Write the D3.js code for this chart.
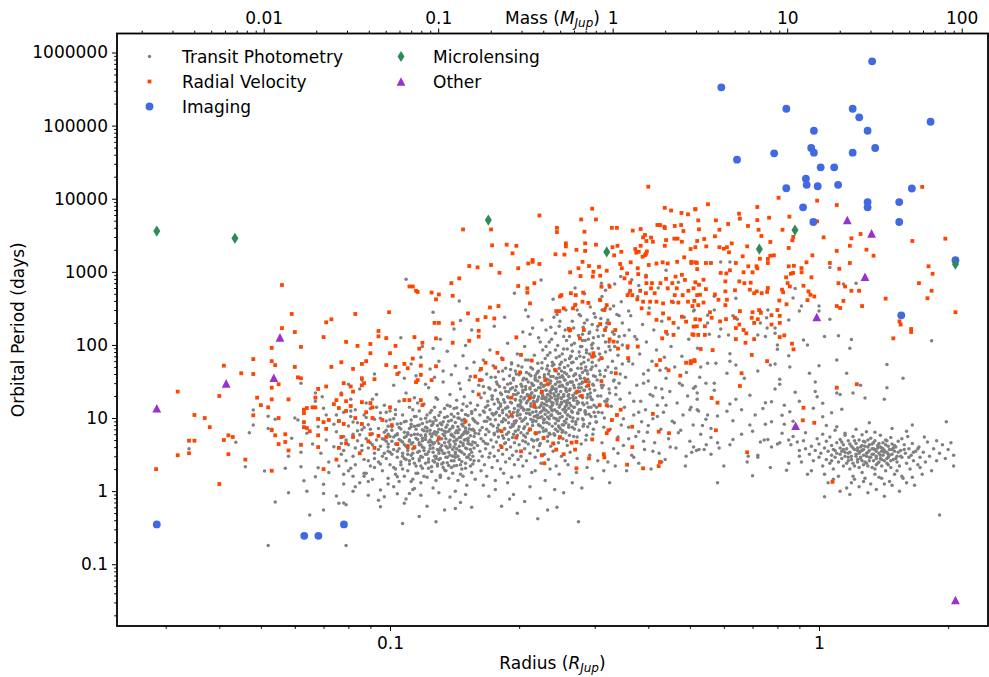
<!DOCTYPE html>
<html>
<head>
<meta charset="utf-8">
<script src="https://cdn.jsdelivr.net/npm/d3@7"></script>
<style>
  body { margin: 0; background: #fff; }
  text { font-family: "DejaVu Sans", sans-serif; }
</style>
</head>
<body>
<svg id="chart" width="989" height="677"></svg>
<script>
// [radius (R_Jup), orbital period (days)]
var transit = [
[0.034,3.8],[0.0437,4.65],[0.048,12.9],[0.048,8.0],[0.047,6.3],[0.046,2.16],[0.051,1.88],[0.052,10.6],[0.054,9.6],[0.052,7.2],[0.053,7.0],[0.054,0.71],[0.052,0.18],
[0.058,0.95],[0.064,1.0],[0.063,1.39],[0.062,3.4],[0.062,2.16],[0.057,2.05],[0.058,3.0],[0.059,5.3],[0.061,9.4],[0.060,10],[0.065,0.47],[0.070,0.55],[0.067,1.57],[0.068,2.09],[0.070,1.24],[0.070,0.93],[0.068,7.6],[0.071,5.0],[0.072,2.5],[0.062,30],[0.067,22],[0.067,17],[0.070,13.6],[0.066,4.4],[0.069,3.3],[0.071,11],[0.064,6.2],[0.072,1.8],[0.0695,19.5],
[0.074,4.05],[0.075,0.86],[0.076,0.68],[0.078,0.69],[0.079,0.65],[0.078,1.25],[0.078,1.7],[0.082,1.0],[0.082,1.6],[0.087,1.75],[0.088,1.75],[0.092,2.1],[0.095,1.04],[0.095,0.61],[0.089,0.88],[0.097,0.84],[0.099,1.5],[0.079,0.18],
[0.075,6.5],[0.076,9.0],[0.077,3.2],[0.078,12],[0.078,5.6],[0.079,2.6],[0.080,7.8],[0.080,4.3],[0.081,18],[0.081,10.5],[0.082,3.0],[0.082,6.0],[0.083,2.3],[0.083,13],[0.084,4.9],[0.084,8.6],[0.085,1.3],[0.085,25],[0.086,3.6],[0.086,6.9],[0.087,11],[0.087,2.7],[0.088,5.2],[0.088,16],[0.089,3.9],[0.089,8.1],[0.090,2.2],[0.090,4.6],[0.090,13.5],[0.091,6.1],[0.091,1.45],[0.092,3.3],[0.092,9.6],[0.093,5.0],[0.093,21],[0.094,2.5],[0.094,7.2],[0.095,4.1],[0.095,11.8],[0.096,3.0],[0.096,1.9],[0.097,6.4],[0.097,15],[0.098,2.8],[0.098,4.8],[0.098,9.1],[0.099,3.5],[0.099,1.25],[0.099,7.7],[0.100,5.6],[0.100,2.3],[0.100,12.5],[0.080,29],[0.086,33],[0.092,40],[0.077,22],[0.083,1.15],[0.089,1.35],[0.094,0.75],[0.081,2.05],
[0.074,8.2],[0.079,5.0],[0.083,3.9],[0.087,7.4],[0.091,4.3],[0.095,9.9],[0.099,6.0],[0.076,2.2],[0.081,12.5],[0.085,5.9],[0.089,2.6],[0.093,14],[0.097,3.3],[0.078,3.6],[0.084,6.7],[0.088,10.2],[0.092,2.8],[0.096,5.2],[0.08,1.9],[0.086,4.2],[0.090,7.0],[0.094,3.7],[0.098,12],[0.075,11],[0.082,8.8],[0.087,1.6],[0.091,18],[0.095,2.35],[0.099,4.4],[0.077,4.5],
[0.109,790],[0.145,400],[0.126,280],[0.146,215],[0.126,89],[0.102,1.15],[0.107,0.36],[0.104,1.57],[0.108,0.68],[0.111,0.93],[0.114,1.09],[0.112,1.35],
[0.101,3.2],[0.101,6.8],[0.102,2.1],[0.102,9.8],[0.103,4.4],[0.103,1.7],[0.103,13],[0.104,2.9],[0.104,5.9],[0.104,8.3],[0.105,3.8],[0.105,1.35],[0.105,17],[0.106,2.5],[0.106,4.9],[0.106,7.1],[0.107,3.3],[0.107,11],[0.107,2.0],[0.108,5.4],[0.108,1.6],[0.108,8.9],[0.109,2.7],[0.109,4.1],[0.109,22],[0.110,3.6],[0.110,6.3],[0.110,1.9],[0.111,14],[0.111,2.35],[0.111,5.0],[0.112,3.1],[0.112,9.4],[0.112,7.6],[0.113,1.45],[0.113,4.6],[0.113,2.8],[0.114,6.0],[0.114,3.9],[0.114,19],[0.115,2.2],[0.115,10.5],[0.115,5.3],[0.116,3.4],[0.116,1.75],[0.116,7.9],[0.117,4.3],[0.117,2.6],[0.117,12.5],[0.118,5.8],[0.118,3.0],[0.118,1.3],[0.119,8.4],[0.119,2.05],[0.119,4.0],[0.120,6.7],[0.120,3.6],[0.120,15.5],[0.121,2.4],[0.121,5.1],[0.121,9.9],[0.122,1.55],[0.122,3.2],[0.122,7.3],[0.123,4.7],[0.123,2.75],[0.123,26],[0.124,6.1],[0.124,3.8],[0.124,11.8],[0.125,2.15],[0.125,5.6],[0.125,1.85],[0.126,8.8],[0.126,3.4],[0.126,4.4],[0.127,14],[0.127,2.5],[0.127,6.5],[0.128,3.0],[0.128,1.4],[0.128,9.3],[0.129,4.9],[0.129,2.2],[0.129,18],[0.130,7.0],[0.130,3.6],[0.130,5.5],[0.131,2.8],[0.131,12],[0.131,1.65],[0.132,4.2],[0.132,8.1],[0.132,2.35],[0.133,6.0],[0.133,3.3],[0.133,31],[0.134,10.2],[0.134,4.6],[0.134,1.95],[0.135,2.9],[0.135,7.5],[0.135,5.2],[0.136,3.9],[0.136,15],[0.136,2.45],[0.137,6.6],[0.137,1.5],[0.137,9.0],[0.138,4.3],[0.138,3.1],[0.138,21],[0.139,5.8],[0.139,2.1],[0.139,11.3],[0.140,3.7],[0.140,7.7],[0.140,1.75],[0.141,4.8],[0.141,2.6],[0.141,13.5],[0.142,6.3],[0.142,3.4],[0.142,8.7],[0.143,2.25],[0.143,5.0],[0.143,17.5],[0.144,3.0],[0.144,10],[0.144,1.4],[0.145,6.9],[0.145,4.1],[0.145,2.7],[0.146,25],[0.146,5.4],[0.146,3.5],[0.147,8.2],[0.147,2.0],[0.147,12.8],[0.148,4.5],[0.148,6.0],[0.148,1.6],[0.149,3.2],[0.149,9.6],[0.149,19.5],[0.150,5.1],[0.150,2.4],[0.150,7.3],[0.151,3.8],[0.151,14.5],[0.151,1.2],[0.152,6.4],[0.152,2.9],[0.152,10.8],[0.153,4.4],[0.153,33],[0.153,8.0],[0.154,2.2],[0.154,5.7],[0.154,16],[0.155,3.4],[0.155,11.5],[0.155,1.8],[0.156,7.0],[0.156,4.7],[0.156,23],[0.157,2.6],[0.157,9.3],[0.157,3.9],[0.158,6.2],[0.158,13],[0.158,1.45],
[0.097,5.1],[0.131,3.9],[0.118,9.7],[0.143,6.7],[0.106,2.3],[0.152,4.9],[0.125,12.7],[0.137,2.25],[0.112,4.4],[0.149,8.6],[0.101,7.6],[0.128,5.9],[0.156,3.0],[0.119,2.9],[0.134,13.5],[0.108,6.4],[0.146,2.3],[0.123,3.45],[0.139,9.3],[0.115,1.75],[0.103,11.2],[0.158,8.9],[0.129,7.9],[0.141,4.0],[0.110,3.2],[0.148,15.5],[0.121,5.6],[0.135,1.9],[0.099,4.0],[0.154,2.7],[0.117,8.0],[0.132,6.9],[0.105,5.1],[0.144,11.5],[0.126,2.6],[0.138,5.0],[0.113,13.0],[0.151,6.2],[0.102,3.7],[0.124,4.2],[0.147,3.4],[0.116,6.0],[0.133,2.45],[0.109,9.0],[0.155,12.3],[0.127,3.0],[0.140,7.4],[0.120,1.6],[0.145,5.4],[0.107,4.7],[0.136,10.5],[0.130,4.5],[0.150,2.05],[0.111,7.2],[0.122,6.6],[0.142,2.9],[0.104,3.5],[0.157,5.6],[0.128,19],[0.117,3.5],[0.139,6.0],[0.114,2.4],[0.148,4.2],[0.125,7.9],[0.134,3.3],[0.100,9.5],[0.153,7.1],[0.119,4.9],[0.143,13.8],[0.108,2.8],[0.131,8.5],[0.146,1.7],[0.122,11],[0.137,4.7],[0.112,5.8],[0.150,3.9],[0.126,6.1],[0.103,2.0],[0.141,5.5],[0.116,16],[0.133,2.1],[0.156,9.8],[0.121,3.2],[0.144,7.6],[0.110,4.2],[0.129,2.35],[0.138,14.5],[0.152,5.3],[0.098,6.8],[0.124,9.1],[0.147,2.55],[0.113,3.8],[0.135,6.4],[0.106,8.4],[0.142,4.4],[0.119,5.3],[0.131,1.55],[0.155,4.3],[0.127,4.6],[0.140,3.0],[0.115,7.0],[0.149,6.4],[0.101,4.8],[0.123,2.05],[0.136,8.0],[0.145,3.6],[0.109,5.6],[0.130,10.8],[0.118,2.2],[0.153,3.15],[0.134,5.7],[0.104,6.1],[0.126,3.9],[0.147,9.3],[0.121,7.5],[0.139,2.6],[0.112,8.2],[0.157,6.7],[0.128,2.8],[0.143,5.1],[0.117,4.6],[0.132,3.6],[0.150,11.2],[0.107,3.0],[0.124,5.0],[0.138,7.0],[0.114,10.5],[0.146,4.7],[0.129,6.4],[0.102,5.5],[0.141,2.2],[0.120,3.9],[0.154,3.7],[0.133,8.9],[0.111,2.6],[0.144,6.3],[0.125,4.7],[0.137,3.4],[0.158,4.6],[0.116,5.1],[0.130,2.7],[0.149,5.0],[0.105,7.4],[0.122,8.8],[0.142,3.2],[0.119,6.9],[0.135,4.1],[0.151,2.9],[0.110,6.0],[0.127,10.2],[0.140,5.7],[0.113,3.3],[0.148,7.8],[0.123,2.5],[0.132,5.2],[0.100,3.4],[0.145,9.9],[0.118,4.3],[0.136,2.9],[0.155,6.9],[0.108,4.3],[0.129,3.7],[0.143,3.8],[0.121,5.9],[0.152,4.5],[0.114,7.7],[0.138,4.0],[0.126,8.3],[0.147,5.8],[0.103,5.8],[0.134,6.6],[0.117,2.75],[0.141,10.4],[0.130,3.3],[0.156,2.35],[0.111,4.8],[0.124,6.8],[0.150,6.7],
[0.102,28],[0.105,42],[0.108,35],[0.112,55],[0.115,38],[0.118,68],[0.121,29],[0.124,47],[0.127,36],[0.130,60],[0.133,44],[0.136,82],[0.139,39],[0.142,52],[0.145,30],[0.148,71],[0.151,48],[0.154,37],[0.157,58],[0.119,95],[0.131,120],[0.141,165],[0.150,98],[0.106,125],
[0.104,0.92],[0.109,0.78],[0.113,1.05],[0.118,0.88],[0.122,0.62],[0.126,1.1],[0.130,0.95],[0.134,0.55],[0.138,0.83],[0.142,1.0],[0.146,0.7],[0.150,0.9],[0.155,0.6],[0.117,0.45],[0.128,0.38],[0.142,0.58],
[0.160,4.2],[0.160,8.5],[0.160,15],[0.161,2.6],[0.161,28],[0.161,6.1],[0.162,11],[0.162,3.5],[0.162,45],[0.163,5.2],[0.163,19],[0.163,1.9],[0.164,7.4],[0.164,33],[0.164,3.0],[0.165,12.5],[0.165,4.8],[0.165,62],[0.166,9.0],[0.166,2.3],[0.166,22],[0.167,5.9],[0.167,14],[0.167,3.8],[0.168,40],[0.168,7.0],[0.168,1.6],[0.169,10.2],[0.169,4.4],[0.169,17],[0.170,2.9],[0.170,26],[0.170,6.5],[0.171,13],[0.171,3.3],[0.171,85],[0.172,8.2],[0.172,5.0],[0.172,36],[0.173,2.1],[0.173,11.5],[0.173,20],[0.174,4.0],[0.174,7.8],[0.174,52],[0.175,15.5],[0.175,3.0],[0.175,6.2],[0.176,24],[0.176,9.5],[0.176,1.4],[0.177,4.7],[0.177,31],[0.177,12],[0.178,2.6],[0.178,7.3],[0.178,18],[0.179,5.5],[0.179,43],[0.179,3.6],[0.180,10.8],[0.180,27],[0.180,6.8],[0.181,2.0],[0.181,14.5],[0.181,4.2],[0.182,66],[0.182,8.9],[0.182,21],[0.183,3.2],[0.183,12.8],[0.183,5.7],[0.184,34],[0.184,1.75],[0.184,9.8],[0.185,16.5],[0.185,4.5],[0.185,7.1],[0.186,2.5],[0.186,48],[0.186,23],[0.187,11],[0.187,6.0],[0.187,3.7],[0.188,29],[0.188,14],[0.188,105],[0.189,5.1],[0.189,8.6],[0.189,19],[0.190,2.8],[0.190,38],[0.190,12.2],[0.191,4.0],[0.191,7.5],[0.191,25],[0.192,16],[0.192,1.55],[0.192,57],[0.193,10.4],[0.193,5.4],[0.193,3.1],[0.194,21],[0.194,8.0],[0.194,33],[0.195,13.5],[0.195,4.6],[0.195,2.3],[0.196,6.6],[0.196,44],[0.196,18],[0.197,9.2],[0.197,27],[0.197,3.5],[0.198,12],[0.198,5.8],[0.198,75],[0.199,15],[0.199,2.7],[0.199,22],[0.200,7.6],[0.200,39],[0.200,4.3],
[0.201,11.2],[0.201,17.5],[0.202,3.0],[0.202,29],[0.202,6.3],[0.203,50],[0.203,9.0],[0.203,14],[0.204,4.9],[0.204,24],[0.204,2.2],[0.205,12.8],[0.205,35],[0.205,7.2],[0.206,19],[0.206,3.8],[0.206,95],[0.207,10],[0.207,5.5],[0.207,27],[0.208,16],[0.208,42],[0.208,2.6],[0.209,8.3],[0.209,13],[0.209,21],[0.210,4.4],[0.210,62],[0.210,31],[0.211,6.8],[0.211,11.5],[0.211,18],[0.212,3.3],[0.212,25],[0.212,140],[0.213,9.6],[0.213,38],[0.213,14.5],[0.214,5.1],[0.214,22],[0.214,1.8],[0.215,12],[0.215,47],[0.215,7.9],[0.216,16.8],[0.216,28],[0.216,4.0],[0.217,10.5],[0.217,20],[0.217,72],[0.218,6.1],[0.218,33],[0.218,2.9],[0.219,13.8],[0.219,9.0],[0.219,24],[0.220,41],[0.220,5.0],[0.220,17],[0.221,11],[0.221,3.6],[0.221,56],[0.222,8.1],[0.222,26],[0.222,19.5],[0.223,14],[0.223,6.4],[0.223,36],[0.224,110],[0.224,10.2],[0.224,4.5],[0.225,22],[0.225,30],[0.225,2.4],[0.226,12.5],[0.226,16],[0.226,48],[0.227,7.3],[0.227,85],[0.227,20],[0.228,9.5],[0.228,27],[0.228,5.4],[0.229,13],[0.229,39],[0.229,3.2],[0.230,18],[0.230,65],[0.230,11.3],[0.231,24],[0.231,6.9],[0.231,160],[0.232,15],[0.232,34],[0.232,8.7],[0.233,4.8],[0.233,21],[0.233,52],[0.234,12],[0.234,29],[0.234,2.7],[0.235,17.5],[0.235,9.8],[0.235,44],[0.236,6.0],[0.236,23],[0.236,78],[0.237,14],[0.237,32],[0.237,4.1],[0.238,11],[0.238,19],[0.238,120],[0.239,26],[0.239,7.7],[0.239,58],[0.240,16],[0.240,3.5],[0.240,37],[0.241,10],[0.241,21.5],[0.241,240],[0.242,13],[0.242,46],[0.242,5.8],[0.243,29],[0.243,18],[0.243,8.4],[0.244,67],[0.244,2.2],[0.244,25],[0.245,12.3],[0.245,35],[0.245,15.5],[0.246,6.6],[0.246,98],[0.246,20],[0.247,40],[0.247,9.2],[0.247,4.6],[0.248,27],[0.248,14],[0.248,180],[0.249,54],[0.249,11.5],[0.249,31],[0.250,7.1],[0.250,19],[0.250,23],[0.251,3.0],[0.251,44],[0.251,16.5],[0.252,75],[0.252,10.5],[0.252,28],[0.253,5.2],[0.253,36],[0.253,13],[0.254,130],[0.254,21],[0.254,8.0],[0.255,49],[0.255,17],[0.255,33],[0.256,2.6],[0.256,12],[0.256,62],[0.257,24],[0.257,6.3],[0.257,300],[0.258,40],[0.258,15],[0.258,9.7],[0.259,88],[0.259,29],[0.259,4.2],[0.260,20],[0.260,52],[0.260,11],
[0.261,37],[0.261,7.5],[0.262,155],[0.262,16],[0.263,25],[0.263,3.4],[0.264,70],[0.264,45],[0.265,12.5],[0.265,31],[0.266,9.0],[0.266,210],[0.267,19],[0.267,58],[0.268,5.6],[0.268,28],[0.269,105],[0.269,14],[0.270,40],[0.270,22],[0.271,8.2],[0.271,360],[0.272,65],[0.272,33],[0.273,2.8],[0.273,17],[0.274,48],[0.274,11.5],[0.275,135],[0.275,26],[0.276,6.8],[0.276,80],[0.277,38],[0.277,20],[0.278,250],[0.278,13],[0.279,55],[0.279,4.4],[0.280,30],[0.280,95],[0.281,16],[0.281,42],[0.282,175],[0.282,9.5],[0.283,24],[0.283,68],[0.284,500],[0.284,35],[0.285,12],[0.285,115],[0.286,5.0],[0.286,50],[0.287,27],[0.287,85],[0.288,19],[0.288,220],[0.289,40],[0.289,7.6],[0.290,62],[0.290,14],[0.291,145],[0.291,31],[0.292,3.1],[0.292,75],[0.293,22],[0.293,330],[0.294,46],[0.294,10.5],[0.295,100],[0.295,18],[0.296,58],[0.296,190],[0.297,29],[0.297,6.0],[0.298,125],[0.298,38],[0.299,15],[0.299,270],[0.300,70],[0.300,24],[0.302,52],[0.302,8.8],[0.304,160],[0.304,33],[0.306,12],[0.306,90],[0.308,420],[0.308,44],[0.310,20],[0.310,230],[0.312,4.6],[0.312,65],[0.314,28],[0.314,135],[0.316,37],[0.316,10],[0.318,560],[0.318,80],[0.320,17],[0.320,200],[0.322,50],[0.322,2.5],[0.324,110],[0.324,25],[0.326,7.0],[0.326,310],[0.328,42],[0.328,14.5],[0.330,150],[0.330,60],[0.332,32],[0.332,3.8],[0.334,95],[0.334,680],[0.336,21],[0.336,48],[0.338,260],[0.338,11],[0.340,72],[0.340,5.5],[0.342,130],[0.342,30],[0.344,40],[0.344,18],[0.346,390],[0.346,8.0],[0.348,100],[0.348,55],
[0.171,9.6],[0.236,14.2],[0.289,21],[0.205,5.8],[0.263,31],[0.184,17.8],[0.312,11.8],[0.221,43],[0.247,7.8],[0.196,24],[0.275,16.3],[0.166,12],[0.228,8.6],[0.301,37],[0.258,4.9],[0.212,20.5],[0.189,6.4],[0.242,25],[0.281,9.8],[0.176,36],[0.219,12.3],[0.265,57],[0.198,10.8],[0.325,22],[0.233,5.6],[0.251,18.5],[0.208,34],[0.186,4.6],[0.294,14],[0.225,29],[0.269,7.1],[0.162,6.8],[0.244,44],[0.216,9.3],[0.279,26],[0.201,15.2],[0.238,11],[0.307,62],[0.181,22],[0.255,13.3],[0.228,19],[0.193,8.2],[0.271,40],[0.248,5.3],[0.213,49],[0.169,14.8],[0.286,11.3],[0.234,33],[0.206,7.6],[0.261,21],[0.223,4.2],[0.317,17],[0.191,30],[0.245,9.4],[0.277,70],[0.217,16],[0.253,27],[0.183,11.8],[0.231,6.7],[0.298,28],[0.204,22.5],[0.266,12],[0.239,52],[0.175,5.9],[0.285,45],[0.221,10],[0.257,8.6],[0.197,40],[0.333,33],[0.235,18],[0.211,13],[0.273,5.5],[0.165,27],[0.249,15],[0.229,36],[0.292,8.4],[0.188,19.5],[0.262,24],[0.218,6.3],[0.243,85],[0.199,12.8],[0.281,19],[0.226,23],[0.207,4.7],[0.255,42],[0.179,8.0],[0.303,14],[0.237,10.8],[0.214,30],[0.268,17.5],[0.192,55],[0.247,21],[0.173,18],[0.289,34],[0.224,7.8],[0.259,11],[0.203,27],[0.315,7.5],[0.232,47],[0.186,13.6],[0.276,13],[0.241,4.4],[0.209,17],[0.266,31],[0.194,6.0],[0.229,15.5],[0.296,50],[0.252,6.4],[0.178,29],[0.218,38],[0.283,8.2],[0.239,27],[0.201,9.9],[0.262,65],[0.214,22],[0.245,12.2],[0.168,9.0],[0.322,14.5],[0.226,57],[0.272,22],[0.191,16.4],[0.255,9.0],[0.236,20],[0.208,11.6],[0.288,16],[0.183,44],[0.249,36],[0.221,5.1],[0.267,10],[0.197,21],[0.311,28],[0.231,12.8],[0.259,17.3],[0.211,40],[0.279,48],[0.243,7.0],[0.176,11.4],[0.224,26],[0.301,10.5],[0.194,35],[0.264,14.8],[0.236,30],[0.205,18.2],[0.251,58],[0.185,7.2],[0.293,19.5],[0.217,14],[0.244,23],[0.271,8.9],[0.199,6.9],[0.229,9.6],[0.318,45],[0.256,33],[0.212,26],[0.181,15.6],[0.285,12.6],[0.238,16.5],[0.167,4.5],[0.262,5.8],[0.221,32],[0.247,11.5],[0.202,13.8],[0.276,29],[0.233,72],[0.189,10.3],[0.305,20],[0.215,8.8],[0.254,19.8],[0.228,13.8],[0.196,17.7],[0.268,38],[0.241,6.1],[0.173,20],[0.298,7.0],[0.226,18.5],[0.258,23],[0.207,62],[0.283,15.2],[0.235,8.3],[0.193,26],[0.249,27.5],[0.219,10.7],[0.329,9.3],[0.264,46],[0.184,5.3],[0.239,15],[0.212,7.0],[0.274,11.8],[0.252,38],[0.199,14.6],[0.231,24],[0.292,25],[0.178,6.6],[0.245,17],[0.222,44],[0.267,20.5],[0.205,9.5],[0.287,5.8],[0.256,14.3],[0.189,22.8],[0.233,10.3],[0.309,39],[0.216,19],[0.241,54],[0.197,5.4],[0.261,13.6],[0.228,6.6],[0.278,35],[0.171,25],[0.252,8.1],[0.213,15.7],[0.296,17.8],[0.237,22],[0.186,9.4],[0.269,26],[0.224,11.9],[0.248,48],[0.204,33],[0.282,7.7],[0.232,16.8],[0.194,12],[0.321,18],[0.259,30],[0.218,24],[0.244,9.8],[0.179,13.5],[0.273,15.5],[0.209,6.2],[0.237,37],[0.263,10.4],[0.191,46],[0.299,12],[0.227,20.8],[0.253,6.7],[0.202,19.6],[0.284,24],[0.238,13],[0.215,28],[0.266,7.5],[0.183,8.9],[0.246,31],[0.225,15],[0.312,26],[0.195,9.0],[0.258,16],[0.234,40],[0.271,19],[0.207,24.5],[0.249,10.1],[0.174,11],[0.288,44],[0.221,17.9],[0.257,12.7],[0.199,52],[0.235,6.2],[0.277,23],[0.212,11.2],[0.242,20],[0.264,70],[0.188,14.1],[0.303,8.8],[0.229,28],[0.251,15.8],[0.216,4.9],[0.281,31],[0.196,8.6],[0.238,24.5],[0.262,18.6],[0.205,13.2],[0.291,11.3],[0.244,35],[0.222,8.0],[0.268,14],[0.185,26],[0.248,7.4],[0.231,19.3],[0.336,26],[0.202,16.6],[0.274,9.7],[0.218,35],[0.257,25.5],[0.193,7.7],[0.239,12.6],[0.283,58],[0.226,10.4],[0.261,8.0],[0.209,20.2],[0.246,18.4],[0.179,16.6],
[0.231,95],[0.262,130],[0.287,78],[0.305,180],[0.249,210],[0.318,110],[0.276,260],[0.243,145],[0.296,90],[0.333,140],[0.268,170],[0.222,125],[0.301,240],[0.254,88],[0.281,115],[0.312,300],[0.237,175],[0.292,150],[0.326,85],[0.265,100],[0.348,200],[0.215,170],[0.284,200],[0.258,115],[0.306,130],[0.273,300],[0.339,110],[0.248,70],[0.297,105],[0.361,160],[0.281,140],[0.319,175],[0.235,110],[0.266,82],[0.342,250],[0.29,120],[0.256,160],[0.324,95],[0.308,75],[0.376,120],[0.204,150],[0.352,135],[0.278,95],[0.245,260],[0.332,340],
[0.165,1.2],[0.170,0.85],[0.176,1.05],[0.182,0.62],[0.188,1.3],[0.194,0.9],[0.200,1.6],[0.206,0.72],[0.212,1.15],[0.218,1.9],[0.224,0.8],[0.230,1.4],[0.236,2.0],[0.242,1.05],[0.248,1.7],[0.254,0.95],[0.260,2.3],[0.266,1.3],[0.272,1.8],[0.280,1.1],[0.288,2.1],[0.296,1.5],[0.305,2.6],[0.315,1.9],[0.325,1.3],[0.335,2.2],[0.198,0.5],[0.221,0.42],[0.245,0.6],[0.275,0.38],[0.190,0.78],[0.233,0.55],
[0.195,510],[0.207,300],[0.210,245],[0.226,220],[0.225,770],[0.311,700],[0.324,660],[0.312,460],[0.318,320],[0.322,220],[0.361,520],[0.36,290],[0.175,180],[0.155,160],[0.185,240],[0.24,420],[0.27,600],[0.29,380],[0.345,860],[0.38,650],
[0.350,4.2],[0.352,14],[0.354,36],[0.356,1.9],[0.358,90],[0.360,7.5],[0.362,22],[0.364,250],[0.366,3.1],[0.368,55],[0.370,11],[0.372,130],[0.374,5.6],[0.376,28],[0.378,460],[0.380,2.4],[0.382,75],[0.384,17],[0.386,8.9],[0.388,190],[0.390,40],[0.392,3.7],[0.394,13],[0.396,110],[0.398,6.4],[0.400,32],[0.402,320],[0.404,21],[0.406,2.0],[0.408,60],[0.410,9.8],[0.412,160],[0.414,4.6],[0.416,26],[0.418,85],[0.420,15],[0.422,600],[0.424,3.3],[0.426,45],[0.428,7.0],[0.430,210],[0.432,19],[0.434,12],[0.436,68],[0.438,2.7],[0.440,35],[0.443,140],[0.446,5.2],[0.449,23],[0.452,95],[0.455,9.0],[0.458,380],[0.461,50],[0.464,3.9],[0.467,16],[0.470,170],[0.473,30],[0.476,6.8],[0.479,70],[0.482,11],[0.485,240],[0.488,2.2],[0.491,42],[0.494,20],[0.497,120],[0.500,4.8],[0.503,14],[0.506,58],[0.509,8.0],[0.512,300],[0.515,27],[0.518,3.6],[0.521,90],[0.524,12.5],[0.527,36],[0.366,780],[0.395,900],[0.44,1050],[0.47,720],
[0.36,5.2],[0.38,12],[0.41,3.5],[0.43,25],[0.37,17],[0.40,7.9],[0.45,4.0],[0.39,30],[0.42,10.5],[0.47,6.3],[0.35,9.8],[0.44,15],[0.49,3.0],[0.37,2.9],[0.52,18],[0.40,45],[0.46,8.6],[0.55,11],[0.36,60],[0.43,2.5],[0.48,28],[0.39,4.8],[0.53,6.0],[0.58,4.6],[0.41,20],[0.34,3.3],[0.50,13],[0.38,6.5],[0.44,48],[0.57,30],
[0.55,56],[0.575,56],[0.53,50],[0.62,60],[0.61,41],[0.64,53],[0.545,30],[0.51,25.5],[0.52,22],[0.62,15.5],[0.61,12.4],[0.66,13],[0.69,20.5],[0.75,16.2],[0.775,16.7],[0.52,13],[0.545,9.6],[0.58,10.7],[0.535,7.9],[0.56,7.2],[0.56,5.4],[0.51,4.0],[0.525,3.7],[0.54,3.7],[0.505,3.4],[0.56,3.2],[0.585,3.9],[0.546,4.3],[0.63,5.1],[0.62,4.3],[0.684,3.0],[0.72,2.9],[0.745,5.0],[0.81,4.6],[0.86,4.3],[0.555,140],[0.585,130],[0.615,137],[0.72,137],[0.75,130],[0.79,144],[0.62,76],[0.72,44],[0.77,53],[0.79,55],
[0.80,100],[0.80,87],[0.85,71],[0.855,50],[0.81,34],[0.81,29],[0.88,22.5],[0.90,17],[0.855,12.2],[0.82,10.9],[0.83,8.2],[0.775,8.9],[0.75,8.2],[0.82,6.2],[0.85,5.0],[0.80,4.4],[0.775,4.0],[0.73,4.7],[0.76,5.1],[0.69,8.0],[0.72,3.1],[0.70,1.62],[0.84,1.93],[0.85,2.4],[0.94,1.7],[0.87,5.6],[0.89,4.7],[0.90,3.6],[0.90,3.0],
[1.03,130],[1.11,133],[1.19,119],[1.18,90],[1.83,114],[1.44,54],[1.57,35],[1.44,26],[1.42,18],[1.98,8.9],[1.65,8.0],[1.31,8.6],[1.16,41],[1.10,62],[1.10,22],[1.12,21],[1.20,22],[1.28,18.8],[1.25,28],[1.13,13.2],[1.07,11.8],[1.02,10.4],[0.99,19.5],[0.98,23],[1.02,15.9],[0.97,13.6],[0.95,41],[0.98,31],[1.00,52],[0.92,117],[0.94,100],[1.91,0.47],[1.03,0.84],
[0.59,1360],[0.62,1360],[0.57,465],[0.64,435],[0.63,250],[0.645,225],[0.73,290],[0.76,300],[0.755,235],[0.73,200],[0.757,170],[0.79,170],[0.90,290],[0.91,340],[0.87,440],[0.88,590],[0.85,220],[1.0,340],[1.0,290],[1.06,225],[1.06,1150],[1.14,680],[1.22,700],[0.51,290],[0.55,255],[0.55,200],[0.59,165],[0.57,300],
[0.60,2.2],[0.66,6.0],[0.71,11],[0.64,18],[0.68,2.5],[0.74,13.5],[0.79,25],[0.83,15],[0.58,1.3],[0.63,9.2],[0.70,6.6],[0.77,2.1],[0.87,9.0],[0.93,6.3],[0.67,35],[0.57,24],
[0.95,3.2],[0.96,4.1],[0.97,2.6],[0.98,3.6],[0.99,5.2],[1.00,2.9],[1.00,4.4],[1.01,3.3],[1.02,2.2],[1.02,6.0],[1.03,3.9],[1.03,1.7],[1.04,4.8],[1.04,2.7],[1.05,3.5],[1.05,1.3],[1.06,2.4],[1.06,5.5],[1.07,3.1],[1.07,4.2],[1.08,2.0],[1.08,3.7],[1.09,6.8],[1.09,2.9],[1.10,4.6],[1.10,3.3],[1.11,1.6],[1.11,2.5],[1.12,3.9],[1.12,5.1],[1.13,2.8],[1.13,3.5],[1.14,4.3],[1.14,2.2],[1.15,3.0],[1.15,6.2],[1.16,1.1],[1.16,3.8],[1.17,2.6],[1.17,4.9],[1.18,3.4],[1.18,2.0],[1.19,4.1],[1.19,3.0],[1.20,5.6],[1.20,2.4],[1.21,3.7],[1.21,1.45],[1.22,3.2],[1.22,4.5],[1.23,2.7],[1.23,3.9],[1.24,2.1],[1.24,5.0],[1.25,3.5],[1.25,2.9],[1.26,4.2],[1.26,1.8],[1.27,3.1],[1.27,3.7],[1.28,2.5],[1.28,4.7],[1.29,3.3],[1.29,6.5],[1.30,2.2],[1.30,4.0],[1.31,2.9],[1.31,3.6],[1.32,5.3],[1.32,1.25],[1.33,3.2],[1.33,4.4],[1.34,2.6],[1.34,3.8],[1.35,2.0],[1.35,4.9],[1.36,3.0],[1.36,3.5],[1.37,2.4],[1.37,4.2],[1.38,1.55],[1.38,3.3],[1.39,5.8],[1.39,2.8],[1.40,3.9],[1.40,2.2],[1.41,4.6],[1.41,3.1],[1.42,2.6],[1.42,3.6],[1.43,1.9],[1.43,5.0],[1.44,3.4],[1.44,2.4],[1.45,4.1],[1.45,2.9],[1.46,1.35],[1.46,3.7],[1.47,2.1],[1.47,5.4],[1.48,3.2],[1.48,4.4],[1.49,2.7],[1.50,3.5],[1.50,1.7],[1.51,4.0],[1.52,2.5],[1.52,3.0],[1.53,4.8],[1.54,2.2],[1.55,3.6],[1.56,2.9],[1.57,1.5],[1.58,4.3],[1.59,3.3],[1.60,2.4],[1.61,5.6],[1.62,3.8],[1.63,2.0],[1.64,3.1],[1.65,4.5],[1.66,2.6],[1.67,1.2],[1.68,3.5],[1.70,2.3],[1.71,4.0],[1.72,2.9],[1.74,1.7],[1.75,3.4],[1.77,2.5],[1.79,4.7],[1.81,3.0],[1.83,1.9],[1.85,3.8],[1.88,2.6],[1.91,3.3],[1.94,4.3],[1.97,2.8],[2.00,3.7],[2.03,4.6],[2.06,3.1],[1.12,1.0],[1.18,0.9],[1.24,1.15],[1.30,0.95],[1.36,1.05],[1.42,0.85],[1.48,1.2],[1.54,1.0],[1.60,1.3],[1.08,1.45],[1.20,1.6],[1.27,1.35],[1.40,1.5],[1.52,1.9],[1.65,1.55],[1.72,2.1],[1.10,7.6],[1.22,7.0],[1.35,6.4],[1.48,7.2],[1.60,6.6],[1.26,5.9],[1.15,5.8],[1.56,5.2],[1.76,5.5],[1.88,4.9],[1.04,7.9],[0.91,2.5],[0.93,3.8],[0.96,1.9],[0.92,4.9],[2.06,2.2],
[1.23,3.6],[1.31,4.3],[1.38,2.5],[1.17,3.3],[1.45,3.2],[1.27,2.3],[1.34,4.6],[1.19,2.7],[1.41,3.8],[1.25,4.0],[1.36,2.8],[1.14,3.7],[1.29,3.0],[1.49,3.9],[1.21,4.9],[1.33,2.1],[1.43,4.3],[1.16,2.4],[1.30,3.4],[1.39,3.1],[1.26,2.6],[1.47,2.6],[1.22,3.0],[1.35,3.7],[1.12,3.2],[1.55,3.0],[1.28,4.1],[1.40,2.7],[1.18,4.4],[1.32,2.9],[1.44,4.9],[1.24,3.3],[1.37,3.9],[1.09,3.6],[1.51,2.8],[1.29,2.4],[1.42,3.4],[1.20,3.9],[1.34,3.2],[1.58,3.7],[1.26,3.6],[1.46,3.1],[1.13,4.7],[1.38,4.5],[1.31,2.6],[1.62,2.9],[1.23,2.5],[1.50,4.2],[1.36,2.3],[1.17,2.9],[1.45,2.3],[1.27,4.8],[1.40,3.5],[1.07,2.6],[1.33,3.8],[1.53,3.4],[1.21,2.2],[1.44,2.8],[1.30,5.0],[1.66,3.4],[1.15,3.4],[1.39,4.0],[1.25,2.8],[1.48,3.7],[1.70,3.8],[1.35,1.7],[1.28,1.5],[1.42,1.25],[1.19,1.3],[1.56,1.6]
];

var radialVelocity = [
[0.060,150],[0.070,128],[0.053,91],[0.062,94],[0.048,64],[0.041,52],[0.053,60],[0.054,53],[0.045,41],[0.048,40],[0.060,50],[0.061,36],[0.062,35],[0.055,29],[0.053,26],[0.032,23],[0.040,20],[0.049,19],[0.050,15],[0.053,18],[0.052,14],[0.035,11],[0.037,10],[0.038,7.5],[0.048,10.9],[0.055,10],[0.053,6.8],[0.054,5.8],[0.055,4.4],[0.057,6.0],[0.057,4.7],[0.058,3.6],[0.062,4.3],[0.042,5.8],[0.043,5.5],[0.041,5.0],[0.034,4.9],[0.035,4.9],[0.034,3.3],[0.032,3.1],[0.042,3.2],[0.046,2.7],[0.0285,2.0],[0.053,1.9],[0.040,1.25],[0.068,25],[0.067,19],[0.058,18],[0.063,13],[0.064,13.7],[0.066,14],[0.067,14],[0.063,11.7],[0.063,8.8],[0.063,7.5],[0.064,7.3],[0.065,6.6],[0.068,9.7],[0.070,8.8],[0.072,9.4],[0.068,5.8],[0.071,7.1],[0.068,4.0],[0.070,2.0],[0.075,2.7],[0.076,3.9],[0.071,27],[0.073,50],[0.077,58],[0.079,110],[0.084,97],[0.090,103],[0.090,77],[0.086,55],[0.088,60],[0.082,47],[0.086,35],[0.087,30],[0.086,28],[0.092,34],[0.081,27],[0.078,30],[0.077,21],[0.082,23],[0.075,17.6],[0.074,15.5],[0.079,17],[0.081,14.6],[0.086,16.5],[0.090,16],[0.091,14],[0.088,12],[0.079,12.5],[0.076,13.7],[0.076,9.1],[0.078,8.3],[0.083,10],[0.086,8.3],[0.091,10],[0.096,9.4],[0.101,8.0],[0.077,5.5],[0.082,5.5],[0.079,4.5],[0.090,6.0],[0.094,5.7],[0.098,5.5],[0.089,4.8],[0.085,3.3],[0.092,3.9],[0.100,14],[0.103,50],[0.098,53],[0.100,77],[0.103,97],[0.098,124],[0.094,131],[0.113,65],[0.108,55],[0.115,31],[0.111,17.6],[0.108,17.6],[0.114,128],[0.110,48],[0.104,40],[0.104,4.4],[0.114,4.0],[0.110,4.0],[0.094,155],
[0.056,660],[0.059,265],[0.056,170],[0.071,204],[0.073,224],[0.083,265],[0.0995,280],[0.111,630],[0.113,630],[0.115,550],
[0.40,14600],[0.223,5900],[0.148,3800],[0.172,3800],[0.173,2300],[0.187,2350],[0.197,2270],[0.193,1790],[0.245,4000],[0.245,3500],[0.279,5200],[0.296,7300],[0.302,5200],[0.284,3540],[0.257,2450],[0.257,2230],[0.272,2000],[0.285,2450],[0.285,1930],[0.302,2350],[0.243,1740],[0.255,1720],[0.329,4000],[0.338,4000],[0.330,2170],[0.339,2270],[0.333,1680],[0.368,3660],[0.384,3850],[0.393,3190],[0.389,2960],[0.406,2930],[0.396,2640],[0.410,2580],[0.346,1880],[0.373,2050],[0.380,1880],[0.384,2270],[0.397,1900],[0.388,1610],[0.395,1760],[0.42,4370],[0.426,4370],[0.436,4140],[0.437,7500],[0.452,6900],[0.437,3970],[0.461,4240],[0.477,4370],[0.483,3610],[0.478,6380],[0.495,6120],[0.515,7150],[0.440,2720],[0.460,2840],[0.468,2840],[0.479,2580],[0.437,2270],[0.523,5060],[0.525,3810],[0.52,2640],[0.515,2170],[0.502,2050],[0.485,1580],[0.375,1830],[0.215,1450],
[0.153,1200],[0.160,1150],[0.172,1240],[0.180,970],[0.199,1120],[0.210,1300],[0.215,1370],[0.223,1280],[0.263,985],[0.275,1120],[0.281,1370],[0.291,1200],[0.298,1000],[0.307,1170],[0.320,1035],[0.309,885],[0.297,860],[0.278,875],[0.344,1280],[0.364,1350],[0.347,1120],[0.378,1120],[0.401,1240],[0.393,1690],[0.418,1300],[0.432,1350],[0.444,1300],[0.467,1370],[0.504,1370],[0.515,1350],[0.357,950],[0.352,815],[0.363,710],[0.379,930],[0.395,860],[0.396,700],[0.408,700],[0.406,595],[0.427,700],[0.440,800],[0.444,595],[0.455,700],[0.463,860],[0.479,910],[0.487,775],[0.466,595],[0.461,480],[0.481,480],[0.496,550],[0.510,595],[0.52,480],[0.495,390],[0.470,380],[0.454,390],[0.433,370],[0.418,390],[0.404,390],[0.389,390],[0.377,420],[0.367,480],[0.358,480],[0.363,550],[0.383,550],[0.395,510],[0.414,510],[0.386,317],[0.401,270],[0.418,220],[0.433,270],[0.447,230],[0.458,200],[0.479,243],[0.490,208],[0.510,178],[0.507,140],[0.458,137],[0.440,151],[0.431,123],[0.378,95],[0.359,66],[0.340,89],[0.332,111],[0.335,160],[0.324,197],[0.317,160],[0.309,193],[0.298,77],[0.296,69],[0.283,160],[0.263,160],[0.277,123],[0.261,166],[0.248,290],[0.254,317],[0.267,317],[0.270,350],[0.281,390],[0.290,375],[0.309,410],[0.316,300],[0.320,350],[0.325,625],[0.311,625],[0.251,480],[0.249,460],[0.264,510],[0.271,480],[0.282,520],[0.244,290],[0.212,370],[0.209,595],[0.209,520],[0.217,700],[0.199,640],[0.179,340],[0.171,325],[0.167,240],[0.175,230],[0.160,220],[0.152,270],[0.139,700],[0.145,815],[0.128,420],[0.125,520],[0.130,490],[0.140,470],[0.116,530],[0.127,200],[0.130,200],[0.140,197],[0.161,156],[0.161,130],[0.153,114],[0.140,107],[0.128,123],[0.119,107],[0.117,89],[0.118,52],[0.116,33],[0.118,39],[0.125,33],[0.128,51],[0.118,17.6],[0.119,15],[0.130,5.2],[0.150,9.0],[0.158,37],[0.162,33],[0.161,21],[0.163,47],[0.167,57],[0.176,49],[0.178,78],[0.183,64],[0.197,127],[0.202,73],[0.214,61],[0.201,42],[0.230,33],[0.233,29],[0.243,45],[0.226,23],[0.212,19],[0.217,14.7],[0.192,19],[0.182,6.6],[0.182,4.0],[0.192,11],[0.197,5.4],[0.202,3.5],[0.212,7.0],[0.219,6.2],[0.228,5.3],[0.240,4.5],[0.244,3.7],[0.254,3.2],[0.249,5.5],[0.265,4.6],[0.272,4.7],[0.270,3.7],[0.226,3.1],[0.229,2.4],[0.272,2.05],[0.291,2.8],[0.296,5.1],[0.320,6.2],[0.323,6.8],[0.315,3.2],[0.316,2.9],[0.308,15],[0.320,15],[0.311,32],[0.286,32],[0.290,28],[0.280,20],[0.273,23],[0.336,41],[0.345,13],[0.338,11],[0.329,9.4],[0.339,5.1],[0.357,2.3],[0.367,4.0],[0.367,7.6],[0.410,11.4],[0.423,6.5],[0.447,6.2],[0.426,2.5],[0.423,2.2],[0.389,2.05],[0.475,38],[0.446,45],[0.426,62],[0.418,53],[0.490,57],[0.502,60],[0.512,62],[0.358,96],[0.325,119],[0.311,66],
[1.74,14500],[0.805,10300],[0.99,9400],[1.10,8200],[0.515,7200],[0.551,8400],[0.718,7700],[0.651,6240],[0.654,5330],[0.765,5500],[0.853,5680],[0.718,5100],[0.575,5060],[0.614,4510],[0.683,4240],[0.586,3760],[0.723,3760],[0.822,3760],[0.99,4900],[0.871,3000],[0.867,2700],[0.85,2120],[0.734,3090],[0.77,2560],[0.572,3060],[0.54,2810],[0.626,2450],[0.546,2230],[0.586,2170],[0.60,2070],[0.61,2170],[0.617,1850],[0.68,2230],[0.664,1630],[0.77,1660],[0.785,1680],[0.76,1500],[0.76,1320],[0.728,1510],[0.715,1190],[0.70,985],[0.718,1115],[0.504,1320],[0.519,1320],[0.545,1320],[0.56,1320],[0.52,1090],[0.525,665],[0.515,720],[0.538,780],[0.59,965],[0.608,950],[0.62,1050],[0.64,1320],[0.684,1190],[0.667,985],[0.605,740],[0.652,740],[0.67,700],[0.693,710],[0.637,560],[0.69,570],[0.706,510],[0.716,540],[0.76,600],[0.757,530],[0.735,510],[0.82,570],[0.825,525],[0.855,630],[0.845,700],[0.838,840],[0.86,940],[0.87,965],[0.85,1190],[0.874,1210],[0.91,1125],[0.911,985],[0.965,1680],[0.935,1350],[0.96,840],[0.92,645],[0.945,540],[0.955,485],[0.94,410],[0.975,460],[0.84,360],[0.808,405],[0.80,300],[0.81,250],[0.81,200],[0.775,190],[0.775,255],[0.725,300],[0.732,275],[0.70,280],[0.697,235],[0.72,225],[0.706,200],[0.654,290],[0.637,235],[0.652,190],[0.64,170],[0.61,415],[0.605,350],[0.605,540],[0.583,415],[0.572,490],[0.545,580],[0.528,485],[0.538,380],[0.512,400],[0.523,350],[0.507,340],[0.515,225],[0.528,222],[0.542,180],[0.519,180],[0.562,235],[0.588,210],[0.607,225],[0.557,280],[0.667,160],
[1.025,2960],[1.19,2870],[1.25,3290],[1.18,2270],[1.29,2010],[1.34,1660],[1.10,1930],[1.06,1320],[1.18,1320],[1.115,1100],[1.11,700],[1.15,630],[1.19,550],[1.24,550],[1.14,400],[1.12,320],[1.10,340],[1.26,340],[1.43,430],[1.65,2640],[1.97,2840],[1.80,1190],[1.84,940],[1.83,550],[1.79,435],[1.71,700],[2.08,280],[1.54,210],[1.55,190],[1.64,165],
[0.51,137],[0.523,137],[0.542,137],[0.64,120],[0.674,107],[0.677,144],[0.706,120],[0.81,128],[0.83,135],[0.865,104],[0.872,87],[0.53,88],[0.565,85],[0.697,73],[0.513,60],[0.502,56],[0.757,60],[0.66,41],[0.654,27.4],[0.562,18.8],[0.58,16.2],[0.575,6.8],[0.68,3.4],[1.10,26],[1.225,29],[1.49,123],[1.64,150],[0.92,13.8],[0.917,9.3],[0.975,8.6],[1.075,1.34]
];

var imaging = [
[1.33,758000],[0.592,334000],[0.839,170000],[1.198,170000],[1.241,130000],[1.82,113000],[0.973,85100],[1.298,85100],[0.959,49400],[1.352,49400],[0.786,41800],[0.973,42600],[1.198,42600],[0.644,34200],[1.009,26900],[1.085,26900],[0.932,18800],[0.936,15500],[0.993,14800],[1.108,15500],[0.839,13900],[1.646,13800],[1.298,9010],[1.538,9010],[1.298,7630],[0.918,7630],[0.970,4800],[1.538,4800],[2.08,1440],[1.555,254],
[0.0286,0.35],[0.0631,0.245],[0.0681,0.245],[0.0781,0.35]
];

var microlensing = [
[0.0286,3610],[0.0435,2870],[0.1695,5110],[0.320,1870],[0.726,2050],[0.879,3730],[2.08,1270]
];

var other = [
[0.0286,13.6],[0.0415,29.8],[0.0536,35.6],[0.0554,127],[1.164,5110],[1.326,3360],[1.28,857],[0.988,241],[0.882,7.85],[2.08,0.0324]
];

// axis limits and ticks
var radiusLimits = [0.0231, 2.477];
var periodLimits = [0.01429, 1.82e6];
var massLimits = [0.001443, 141.5];
var radiusTicks = [0.1, 1];
var periodTicks = [0.1, 1, 10, 100, 1000, 10000, 100000, 1000000];
var massTicks = [0.01, 0.1, 1, 10, 100];

var colors = {transit: '#808080', rv: '#ff4500', imaging: '#4169e1', micro: '#2e8b57', other: '#9932cc'};

var svg = d3.select('#chart');
svg.append('rect').attr('width', 989).attr('height', 677).attr('fill', '#fff');

var plotLeft = 117, plotRight = 988, plotTop = 33.5, plotBottom = 626;
var x = d3.scaleLog().domain(radiusLimits).range([plotLeft, plotRight]);
var y = d3.scaleLog().domain(periodLimits).range([plotBottom, plotTop]);
var xTop = d3.scaleLog().domain(massLimits).range([plotLeft, plotRight]);

function minorTicks(scale) {
  var d = scale.domain(), out = [];
  for (var e = Math.floor(Math.log10(d[0])); e <= Math.ceil(Math.log10(d[1])); e++) {
    for (var k = 2; k < 10; k++) {
      var v = k * Math.pow(10, e);
      if (v >= d[0] && v <= d[1]) out.push(v);
    }
  }
  return out;
}

var fmt = function(d) { return String(d); };

function styleAxis(g) {
  g.select('.domain').remove();
  g.selectAll('line').attr('stroke', '#000').attr('stroke-width', 1);
  g.selectAll('text').attr('font-family', '"DejaVu Sans", sans-serif').attr('font-size', 17).attr('fill', '#000');
}

// bottom axis
svg.append('g').attr('transform', 'translate(0,' + plotBottom + ')')
  .call(d3.axisBottom(x).tickValues(radiusTicks).tickFormat(fmt).tickSize(5).tickPadding(6)).call(styleAxis);
svg.append('g').attr('transform', 'translate(0,' + plotBottom + ')')
  .call(d3.axisBottom(x).tickValues(minorTicks(x)).tickFormat('').tickSize(2.8)).call(styleAxis);
// left axis
svg.append('g').attr('transform', 'translate(' + plotLeft + ',0)')
  .call(d3.axisLeft(y).tickValues(periodTicks).tickFormat(fmt).tickSize(5).tickPadding(4)).call(styleAxis);
svg.append('g').attr('transform', 'translate(' + plotLeft + ',0)')
  .call(d3.axisLeft(y).tickValues(minorTicks(y)).tickFormat('').tickSize(2.8)).call(styleAxis);
// top axis (mass)
svg.append('g').attr('transform', 'translate(0,' + plotTop + ')')
  .call(d3.axisTop(xTop).tickValues(massTicks).tickFormat(fmt).tickSize(5).tickPadding(4.5)).call(styleAxis);
svg.append('g').attr('transform', 'translate(0,' + plotTop + ')')
  .call(d3.axisTop(xTop).tickValues(minorTicks(xTop)).tickFormat('').tickSize(2.8)).call(styleAxis);

// points
var plot = svg.append('g');
plot.selectAll('.tr').data(transit).enter().append('circle')
  .attr('cx', function(d) { return x(d[0]); }).attr('cy', function(d) { return y(d[1]); })
  .attr('r', 1.75).attr('fill', colors.transit);
plot.selectAll('.rv').data(radialVelocity).enter().append('rect')
  .attr('x', function(d) { return x(d[0]) - 1.9; }).attr('y', function(d) { return y(d[1]) - 1.9; })
  .attr('width', 3.8).attr('height', 3.8).attr('fill', colors.rv);
plot.selectAll('.im').data(imaging).enter().append('circle')
  .attr('cx', function(d) { return x(d[0]); }).attr('cy', function(d) { return y(d[1]); })
  .attr('r', 3.9).attr('fill', colors.imaging);

var diamond = 'M0,-5.6L3.5,0L0,5.6L-3.5,0Z';
var triangle = 'M0,-4.3L4.4,4.3L-4.4,4.3Z';
plot.selectAll('.ml').data(microlensing).enter().append('path')
  .attr('transform', function(d) { return 'translate(' + x(d[0]) + ',' + y(d[1]) + ')'; })
  .attr('d', diamond).attr('fill', colors.micro);
plot.selectAll('.ot').data(other).enter().append('path')
  .attr('transform', function(d) { return 'translate(' + x(d[0]) + ',' + y(d[1]) + ')'; })
  .attr('d', triangle).attr('fill', colors.other);

// frame
svg.append('rect').attr('x', plotLeft).attr('y', plotTop).attr('width', plotRight - plotLeft).attr('height', plotBottom - plotTop)
  .attr('fill', 'none').attr('stroke', '#000').attr('stroke-width', 1.8);

// axis labels
svg.append('text').attr('transform', 'translate(24,' + ((plotTop + plotBottom) / 2) + ') rotate(-90)')
  .attr('text-anchor', 'middle').attr('font-size', 17).text('Orbital Period (days)');

function mathLabel(txt, sym, xPos, yPos) {
  var t = svg.append('text').attr('x', xPos).attr('y', yPos).attr('text-anchor', 'middle').attr('font-size', 17);
  t.append('tspan').text(txt + ' (');
  t.append('tspan').attr('font-style', 'italic').text(sym);
  t.append('tspan').attr('font-style', 'italic').attr('font-size', 12).attr('dy', 3).text('Jup');
  t.append('tspan').attr('dy', -3).text(')');
}
mathLabel('Radius', 'R', (plotLeft + plotRight) / 2, 669);
mathLabel('Mass', 'M', (plotLeft + plotRight) / 2, 24);

// legend
var legend = svg.append('g');
var rows = [
  {label: 'Transit Photometry', col: 0, row: 0, kind: 'dot'},
  {label: 'Radial Velocity', col: 0, row: 1, kind: 'square'},
  {label: 'Imaging', col: 0, row: 2, kind: 'circle'},
  {label: 'Microlensing', col: 1, row: 0, kind: 'diamond'},
  {label: 'Other', col: 1, row: 1, kind: 'triangle'}
];
rows.forEach(function(r) {
  var mx = r.col === 0 ? 149.5 : 401, tx = r.col === 0 ? 182 : 433;
  var my = 56.5 + r.row * 25;
  if (r.kind === 'dot') legend.append('circle').attr('cx', mx).attr('cy', my).attr('r', 1.75).attr('fill', colors.transit);
  if (r.kind === 'square') legend.append('rect').attr('x', mx - 1.9).attr('y', my - 1.9).attr('width', 3.8).attr('height', 3.8).attr('fill', colors.rv);
  if (r.kind === 'circle') legend.append('circle').attr('cx', mx).attr('cy', my).attr('r', 3.9).attr('fill', colors.imaging);
  if (r.kind === 'diamond') legend.append('path').attr('transform', 'translate(' + mx + ',' + my + ')').attr('d', diamond).attr('fill', colors.micro);
  if (r.kind === 'triangle') legend.append('path').attr('transform', 'translate(' + mx + ',' + my + ')').attr('d', triangle).attr('fill', colors.other);
  legend.append('text').attr('x', tx).attr('y', my).attr('dy', '0.36em').attr('font-size', 17).text(r.label);
});
</script>
</body>
</html>
